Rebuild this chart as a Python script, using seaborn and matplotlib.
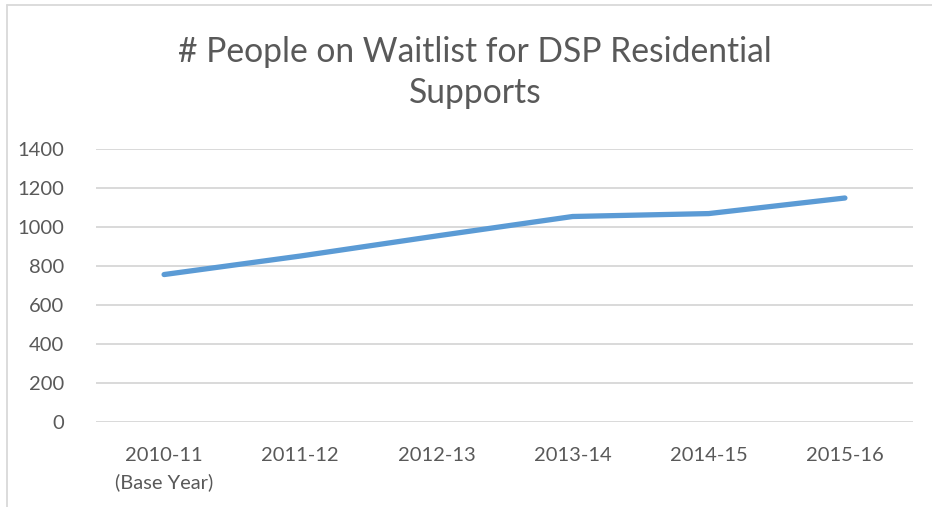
import matplotlib
matplotlib.use("Agg")
import matplotlib.pyplot as plt
import seaborn as sns
import pandas as pd
from matplotlib.lines import Line2D

years = ["2010-11\n(Base Year)", "2011-12", "2012-13", "2013-14", "2014-15", "2015-16"]
waitlist = [757, 852, 955, 1055, 1070, 1150]
yticks = [0, 200, 400, 600, 800, 1000, 1200, 1400]
title_lines = ["# People on Waitlist for DSP Residential", "Supports"]

sns.set_theme(style="white")
plt.rcParams["font.family"] = ["Lato", "DejaVu Sans"]

text_color = "#595959"
grid_color = "#D9D9D9"
line_color = "#5B9BD5"

df = pd.DataFrame({"year": years, "count": waitlist})

fig = plt.figure(figsize=(9.32, 5.07), dpi=100)
W, H = 932, 507
ax = fig.add_axes([96 / W, (H - 422) / H, (913 - 96) / W, (422 - 149.3) / H])

sns.lineplot(data=df, x="year", y="count", ax=ax, color=line_color,
             linewidth=3.8, solid_capstyle="round", sort=False)

ax.set_xlim(-0.5, len(years) - 0.5)
ax.set_ylim(0, 1400)
ax.set_yticks(yticks)
ax.set_yticklabels([str(v) for v in yticks])
ax.set_xlabel("")
ax.set_ylabel("")
for s in ax.spines.values():
    s.set_visible(False)
ax.yaxis.grid(True, color=grid_color, linewidth=1.4)
ax.xaxis.grid(False)
ax.set_axisbelow(True)
ax.tick_params(axis="both", length=0, labelsize=14.5, colors=text_color)
ax.tick_params(axis="y", pad=23)
ax.tick_params(axis="x", pad=18)
for lab in ax.get_xticklabels():
    lab.set_linespacing(1.6)

baselines = [62, 103]
for txt, b in zip(title_lines, baselines):
    fig.text(475 / W, 1 - b / H, txt, ha="center", va="baseline",
             fontsize=24.2, color=text_color)

# outer chart frame (top and left visible)
fig.add_artist(Line2D([7 / W, 7 / W], [0, 1 - 5 / H], transform=fig.transFigure,
                      color=grid_color, linewidth=1.3))
fig.add_artist(Line2D([7 / W, 1], [1 - 5 / H, 1 - 5 / H], transform=fig.transFigure,
                      color=grid_color, linewidth=1.3))

fig.savefig("out.png", dpi=100, facecolor="white")
